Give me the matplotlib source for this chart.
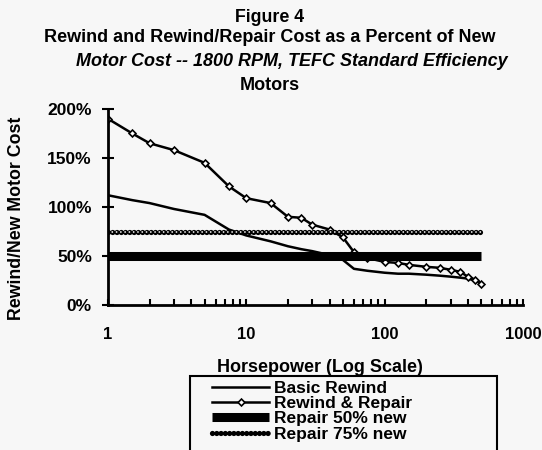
import matplotlib.pyplot as plt
from matplotlib.patches import Rectangle
from matplotlib.ticker import FixedLocator, FixedFormatter, LogLocator, NullFormatter

plt.rcParams['font.family'] = ['Liberation Sans', 'DejaVu Sans']
plt.rcParams['font.weight'] = 'bold'

# Horsepower values (log x axis)
hp = [1, 1.5, 2, 3, 5, 7.5, 10, 15, 20, 25, 30, 40, 50, 60, 75,
      100, 125, 150, 200, 250, 300, 350, 400, 450, 500]

# Cost as a fraction of new motor cost
basic_rewind = [1.12, 1.07, 1.04, 0.98, 0.92, 0.77, 0.71, 0.65, 0.60, 0.57, 0.55,
                0.51, 0.46, 0.37, 0.35, 0.33, 0.32, 0.32, 0.31, 0.30, 0.29, 0.28,
                0.27, 0.25, 0.22]
rewind_repair = [1.90, 1.75, 1.65, 1.58, 1.45, 1.21, 1.09, 1.04, 0.90, 0.89, 0.82,
                 0.77, 0.69, 0.54, 0.48, 0.44, 0.43, 0.41, 0.39, 0.38, 0.36, 0.34,
                 0.29, 0.26, 0.22]
repair_hp = [1, 500]
repair_50 = [0.50, 0.50]
repair_75 = [0.75, 0.75]

xticks = [1, 10, 100, 1000]
xtick_labels = ['1', '10', '100', '1000']
yticks = [0, 0.5, 1.0, 1.5, 2.0]
ytick_labels = ['0%', '50%', '100%', '150%', '200%']

bg = '#f7f7f7'
fig = plt.figure(figsize=(5.42, 4.5), dpi=100, facecolor=bg)
ax = fig.add_axes([0.199, 0.322, 0.766, 0.436], facecolor=bg)

ax.plot(hp, basic_rewind, color='black', lw=1.8, label='Basic Rewind')
ax.plot(hp, rewind_repair, color='black', lw=1.8, marker='D', markersize=3.5,
        markerfacecolor='white', markeredgecolor='black', markeredgewidth=1.2,
        label='Rewind & Repair')
ax.plot(repair_hp, repair_50, color='black', lw=6.5, solid_capstyle='butt',
        label='Repair 50% new')
# chain-like pattern for the 75% line
ax.plot(repair_hp, repair_75, color='black', lw=3.8, dash_capstyle='round',
        dashes=(0.01, 0.8), label='Repair 75% new')
ax.plot(repair_hp, repair_75, color=bg, lw=1.3, dash_capstyle='round',
        dashes=(0.01, 2.36))

ax.set_xscale('log')
ax.set_xlim(1, 1000)
ax.set_ylim(0, 2.0)

ax.xaxis.set_major_locator(FixedLocator(xticks))
ax.xaxis.set_major_formatter(FixedFormatter(xtick_labels))
ax.xaxis.set_minor_locator(LogLocator(base=10, subs=range(2, 10)))
ax.xaxis.set_minor_formatter(NullFormatter())
ax.set_yticks(yticks)
ax.set_yticklabels(ytick_labels)

ax.tick_params(axis='x', which='both', direction='in', length=4, width=1.5,
               pad=16, labelsize=12)
ax.tick_params(axis='y', direction='inout', length=9, width=1.5, pad=7,
               labelsize=12.5)
for s in ['top', 'right']:
    ax.spines[s].set_visible(False)
for s in ['left', 'bottom']:
    ax.spines[s].set_linewidth(2)

ax.set_ylabel('Rewind/New Motor Cost', fontsize=12.8, fontweight='bold')
ax.yaxis.set_label_coords(-0.2, 0.444)

fig.text(0.591, 1 - 367 / 450, 'Horsepower (Log Scale)', ha='center', va='center',
         fontsize=13, fontweight='bold')

# titles
fig.text(0.498, 1 - 17 / 450, 'Figure 4', ha='center', va='center', fontsize=12.8)
fig.text(0.498, 1 - 38 / 450, 'Rewind and Rewind/Repair Cost as a Percent of New',
         ha='center', va='center', fontsize=13)
fig.text(292 / 542, 1 - 61 / 450, 'Motor Cost -- 1800 RPM, TEFC Standard Efficiency',
         ha='center', va='center', fontsize=13, style='italic')
fig.text(0.498, 1 - 85 / 450, 'Motors', ha='center', va='center', fontsize=13)

# legend box
fig.patches.append(Rectangle((190 / 542, -0.02), 307 / 542, 0.02 + 1 - 376 / 450,
                             transform=fig.transFigure, fill=False,
                             edgecolor='black', lw=1.5))
fig.legend(loc='upper left', bbox_to_anchor=(212 / 542, 1 - 381 / 450),
           frameon=False, handlelength=3.3, handletextpad=0.25,
           labelspacing=0.0, borderpad=0, borderaxespad=0,
           prop={'weight': 'bold', 'size': 12.5})

fig.savefig('out.png', dpi=100, facecolor=bg)
